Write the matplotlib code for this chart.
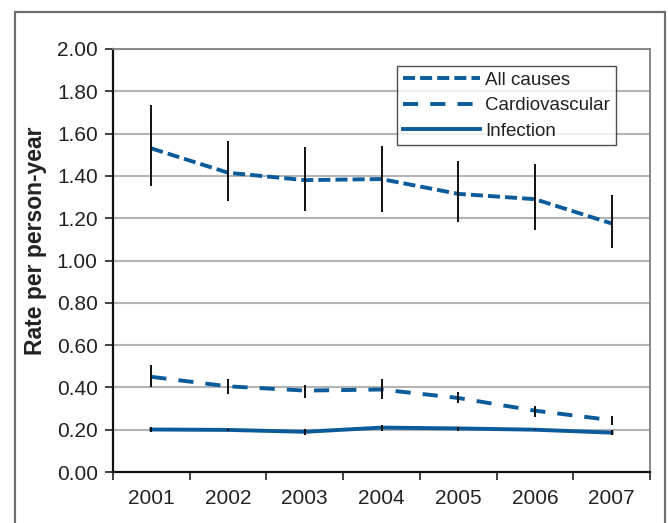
import matplotlib
matplotlib.use("Agg")
import matplotlib.pyplot as plt
from matplotlib.patches import Rectangle
import numpy as np

plt.rcParams['font.family'] = ['Liberation Sans', 'DejaVu Sans']

years = ["2001", "2002", "2003", "2004", "2005", "2006", "2007"]

all_causes = [1.53, 1.415, 1.38, 1.385, 1.315, 1.29, 1.175]
all_lo = [1.35, 1.283, 1.236, 1.231, 1.18, 1.146, 1.057]
all_hi = [1.736, 1.566, 1.538, 1.542, 1.47, 1.458, 1.311]

cardio = [0.45, 0.405, 0.385, 0.39, 0.35, 0.29, 0.245]
cardio_lo = [0.402, 0.371, 0.352, 0.343, 0.324, 0.261, 0.222]
cardio_hi = [0.505, 0.442, 0.41, 0.442, 0.376, 0.311, 0.264]

infection = [0.201, 0.199, 0.19, 0.21, 0.206, 0.2, 0.186]
inf_lo = [0.19, 0.195, 0.174, 0.196, 0.196, 0.197, 0.175]
inf_hi = [0.214, 0.203, 0.205, 0.221, 0.214, 0.203, 0.198]

yticks = [0.0, 0.2, 0.4, 0.6, 0.8, 1.0, 1.2, 1.4, 1.6, 1.8, 2.0]

blue = '#0b5a9a'
txt = '#222222'

fig = plt.figure(figsize=(6.68, 5.23), dpi=100)
# outer frame
fig.patches.append(Rectangle((15/668, -0.05), (665-15)/668, 1.05 - 12/523,
                             transform=fig.transFigure, fill=False,
                             edgecolor='#6e6e6e', linewidth=1.6))

ax = fig.add_axes([113/668, (523-472)/523, 537/668, 423/523])
x = np.arange(len(years))

lw = 2.8
ax.plot(x, all_causes, color=blue, lw=lw, dashes=(3.1, 1.3), label='All causes', zorder=3)
ax.plot(x, cardio, color=blue, lw=lw, dashes=(3.9, 3.1), label='Cardiovascular', zorder=3)
ax.plot(x, infection, color=blue, lw=lw, label='Infection', zorder=3)

for v, lo, hi in [(all_causes, all_lo, all_hi), (cardio, cardio_lo, cardio_hi),
                  (infection, inf_lo, inf_hi)]:
    v = np.array(v)
    yerr = np.vstack([v - np.array(lo), np.array(hi) - v])
    ax.errorbar(x, v, yerr=yerr, fmt='none', ecolor='#111111', elinewidth=1.4,
                capsize=0, zorder=4)

ax.set_xlim(-0.5, 6.5)
ax.set_ylim(0, 2.0)
ax.set_yticks(yticks)
ax.set_yticklabels([f"{t:.2f}" for t in yticks])
ax.yaxis.grid(True, color='#b4b4b4', linewidth=1.5)
ax.set_axisbelow(True)

ax.set_xticks(x)
ax.set_xticklabels(years)
ax.set_xticks(np.arange(-0.5, 7.0, 1.0), minor=True)
ax.tick_params(axis='x', which='major', length=0, pad=12, labelsize=15, labelcolor=txt)
ax.tick_params(axis='x', which='minor', length=6, width=1.2, direction='out', color='#222222')
ax.tick_params(axis='y', length=6, width=1.2, direction='out', labelsize=15,
               labelcolor=txt, color='#222222', pad=5)

for s in ['left', 'bottom']:
    ax.spines[s].set_color('#111111')
    ax.spines[s].set_linewidth(1.6)
for s in ['top', 'right']:
    ax.spines[s].set_color('#808080')
    ax.spines[s].set_linewidth(1.3)

ax.set_ylabel('Rate per person-year', fontsize=16.5, fontweight='bold', color=txt)
ax.yaxis.set_label_coords((47 - 113) / 537, (472 - 241) / 423)

leg = ax.legend(loc='upper left', bbox_to_anchor=((397-113)/537, (472-66)/423),
                fontsize=13.5, frameon=True, fancybox=False, handlelength=4.1,
                handletextpad=0.3, labelspacing=0.45, borderpad=0.3, borderaxespad=0)
leg.get_frame().set_edgecolor('#222222')
leg.get_frame().set_linewidth(1.0)
for t in leg.get_texts():
    t.set_color(txt)

fig.savefig('out.png', dpi=100)
